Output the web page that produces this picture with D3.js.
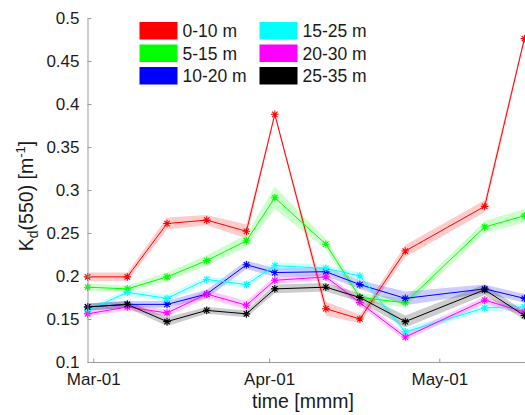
<!DOCTYPE html>
<html>
<head>
<meta charset="utf-8">
<script src="https://cdn.jsdelivr.net/npm/d3@7"></script>
<style>
  html, body { margin: 0; padding: 0; background: #fff; }
  svg { display: block; font-family: "Liberation Sans", Arial, Helvetica, sans-serif; }
</style>
</head>
<body>
<svg id="chart" width="525" height="415"></svg>
<script>
// Sampling dates (2013)
const dates = ["2013-02-28", "2013-03-07", "2013-03-14", "2013-03-21", "2013-03-28",
               "2013-04-02", "2013-04-11", "2013-04-17", "2013-04-25", "2013-05-09", "2013-05-16"];

// Depth layers
const layers = ["0-10 m", "5-15 m", "10-20 m", "15-25 m", "20-30 m", "25-35 m"];
const colors = ["#ff0000", "#00ff00", "#0000ff", "#00ffff", "#ff00ff", "#000000"];

// Mean Kd(550) per layer
const kd0_10  = [0.199, 0.199, 0.261, 0.265, 0.252, 0.388, 0.162, 0.150, 0.229, 0.281, 0.476];
const kd5_15  = [0.187, 0.185, 0.199, 0.218, 0.241, 0.291, 0.237, 0.175, 0.169, 0.257, 0.270];
const kd10_20 = [0.164, 0.167, 0.167, 0.179, 0.213, 0.204, 0.205, 0.190, 0.174, 0.185, 0.174];
const kd15_25 = [0.160, 0.181, 0.174, 0.196, 0.190, 0.212, 0.209, 0.200, 0.135, 0.163, 0.164];
const kd20_30 = [0.156, 0.164, 0.157, 0.179, 0.166, 0.195, 0.199, 0.169, 0.129, 0.172, 0.158];
const kd25_35 = [0.164, 0.167, 0.147, 0.160, 0.156, 0.185, 0.187, 0.175, 0.147, 0.184, 0.154];

// Half-width of the uncertainty band per layer
const err0_10  = [0.005, 0.005, 0.007, 0.006, 0.008, 0.003, 0.008, 0.005, 0.007, 0.007, 0.004];
const err5_15  = [0.004, 0.004, 0.005, 0.006, 0.007, 0.013, 0.006, 0.005, 0.005, 0.007, 0.008];
const err10_20 = [0.004, 0.004, 0.004, 0.005, 0.005, 0.005, 0.005, 0.005, 0.008, 0.005, 0.005];
const err15_25 = [0.003, 0.004, 0.004, 0.004, 0.004, 0.004, 0.004, 0.004, 0.004, 0.004, 0.004];
const err20_30 = [0.003, 0.004, 0.004, 0.005, 0.005, 0.004, 0.004, 0.004, 0.004, 0.004, 0.004];
const err25_35 = [0.004, 0.004, 0.005, 0.004, 0.004, 0.005, 0.005, 0.005, 0.007, 0.006, 0.005];

const yTicks = [0.1, 0.15, 0.2, 0.25, 0.3, 0.35, 0.4, 0.45, 0.5];
const xTicks = ["2013-03-01", "2013-04-01", "2013-05-01"];

const means = [kd0_10, kd5_15, kd10_20, kd15_25, kd20_30, kd25_35];
const errs  = [err0_10, err5_15, err10_20, err15_25, err20_30, err25_35];

const parse = d3.timeParse("%Y-%m-%d");
const t = dates.map(parse);

const series = layers.map((name, i) => ({
  name, color: colors[i],
  pts: t.map((d, j) => ({ date: d, v: means[i][j], e: errs[i][j] }))
}));

const svg = d3.select("#chart");
const axisColor = "#9a9a9a";
const textColor = "#1a1a1a";

const x = d3.scaleTime()
  .domain([parse(dates[0]), parse(dates[dates.length - 1])])
  .range([87.6, 524.4]);
const y = d3.scaleLinear().domain([0.1, 0.5]).range([362, 18]);

// Shaded uncertainty bands
const area = d3.area()
  .x(d => x(d.date))
  .y0(d => y(d.v - d.e))
  .y1(d => y(d.v + d.e));

svg.append("g").selectAll("path")
  .data(series).join("path")
  .attr("d", s => area(s.pts))
  .attr("fill", s => s.color)
  .attr("fill-opacity", 0.2)
  .attr("stroke", "none");

// Mean lines
const line = d3.line().x(d => x(d.date)).y(d => y(d.v));
svg.append("g").selectAll("path")
  .data(series).join("path")
  .attr("d", s => line(s.pts))
  .attr("fill", "none")
  .attr("stroke", s => s.color)
  .attr("stroke-width", 1);

// Asterisk markers
const star = r => `M${-r},0H${r}M0,${-r}V${r}` +
  `M${-r * 0.72},${-r * 0.72}L${r * 0.72},${r * 0.72}M${-r * 0.72},${r * 0.72}L${r * 0.72},${-r * 0.72}`;
series.forEach(s => {
  svg.append("g").selectAll("path")
    .data(s.pts).join("path")
    .attr("transform", d => `translate(${x(d.date)},${y(d.v)})`)
    .attr("d", star(3.8))
    .attr("fill", "none")
    .attr("stroke", s.color)
    .attr("stroke-width", 1.1);
});

// Y axis (ticks point inward)
const yAxis = d3.axisLeft(y).tickValues(yTicks).tickSizeInner(-4).tickSizeOuter(0)
  .tickPadding(8).tickFormat(d3.format("~g"));
const gy = svg.append("g").attr("transform", "translate(87.5,0)").call(yAxis);
gy.select(".domain").attr("stroke", axisColor);
gy.selectAll(".tick line").attr("stroke", axisColor);
gy.selectAll(".tick text").attr("fill", textColor).attr("font-size", 17)
  .attr("font-family", "Liberation Sans, Arial, sans-serif");

// X axis (ticks point inward)
const xAxis = d3.axisBottom(x).tickValues(xTicks.map(parse)).tickSizeInner(-4).tickSizeOuter(0)
  .tickPadding(10).tickFormat(d3.timeFormat("%b-%d"));
const gx = svg.append("g").attr("transform", "translate(0,362.5)").call(xAxis);
gx.select(".domain").attr("stroke", axisColor).attr("d", "M87.5,0H525");
gx.selectAll(".tick line").attr("stroke", axisColor);
gx.selectAll(".tick text").attr("fill", textColor).attr("font-size", 17)
  .attr("font-family", "Liberation Sans, Arial, sans-serif");

// Axis titles
svg.append("text")
  .attr("x", 303).attr("y", 408)
  .attr("text-anchor", "middle")
  .attr("font-size", 19.5).attr("fill", textColor)
  .text("time [mmm]");

const yt = svg.append("text")
  .attr("transform", "translate(33,196) rotate(-90)")
  .attr("text-anchor", "middle")
  .attr("font-size", 19.5).attr("fill", textColor);
yt.append("tspan").text("K");
yt.append("tspan").attr("font-size", 14).attr("dy", 5).text("d");
yt.append("tspan").attr("dy", -5).text("(550) [m");
yt.append("tspan").attr("font-size", 13).attr("dy", -8).text("-1");
yt.append("tspan").attr("dy", 8).text("]");

// Legend: two columns of three
const legend = svg.append("g");
series.forEach((s, i) => {
  const col = Math.floor(i / 3), row = i % 3;
  const gx0 = 139.5 + col * 120, gy0 = 22 + row * 22.5;
  legend.append("rect")
    .attr("x", gx0).attr("y", gy0).attr("width", 38).attr("height", 17.5)
    .attr("fill", s.color);
  legend.append("text")
    .attr("x", gx0 + 43).attr("y", gy0 + 15)
    .attr("font-size", 17.5).attr("fill", textColor)
    .text(s.name);
});
</script>
</body>
</html>
